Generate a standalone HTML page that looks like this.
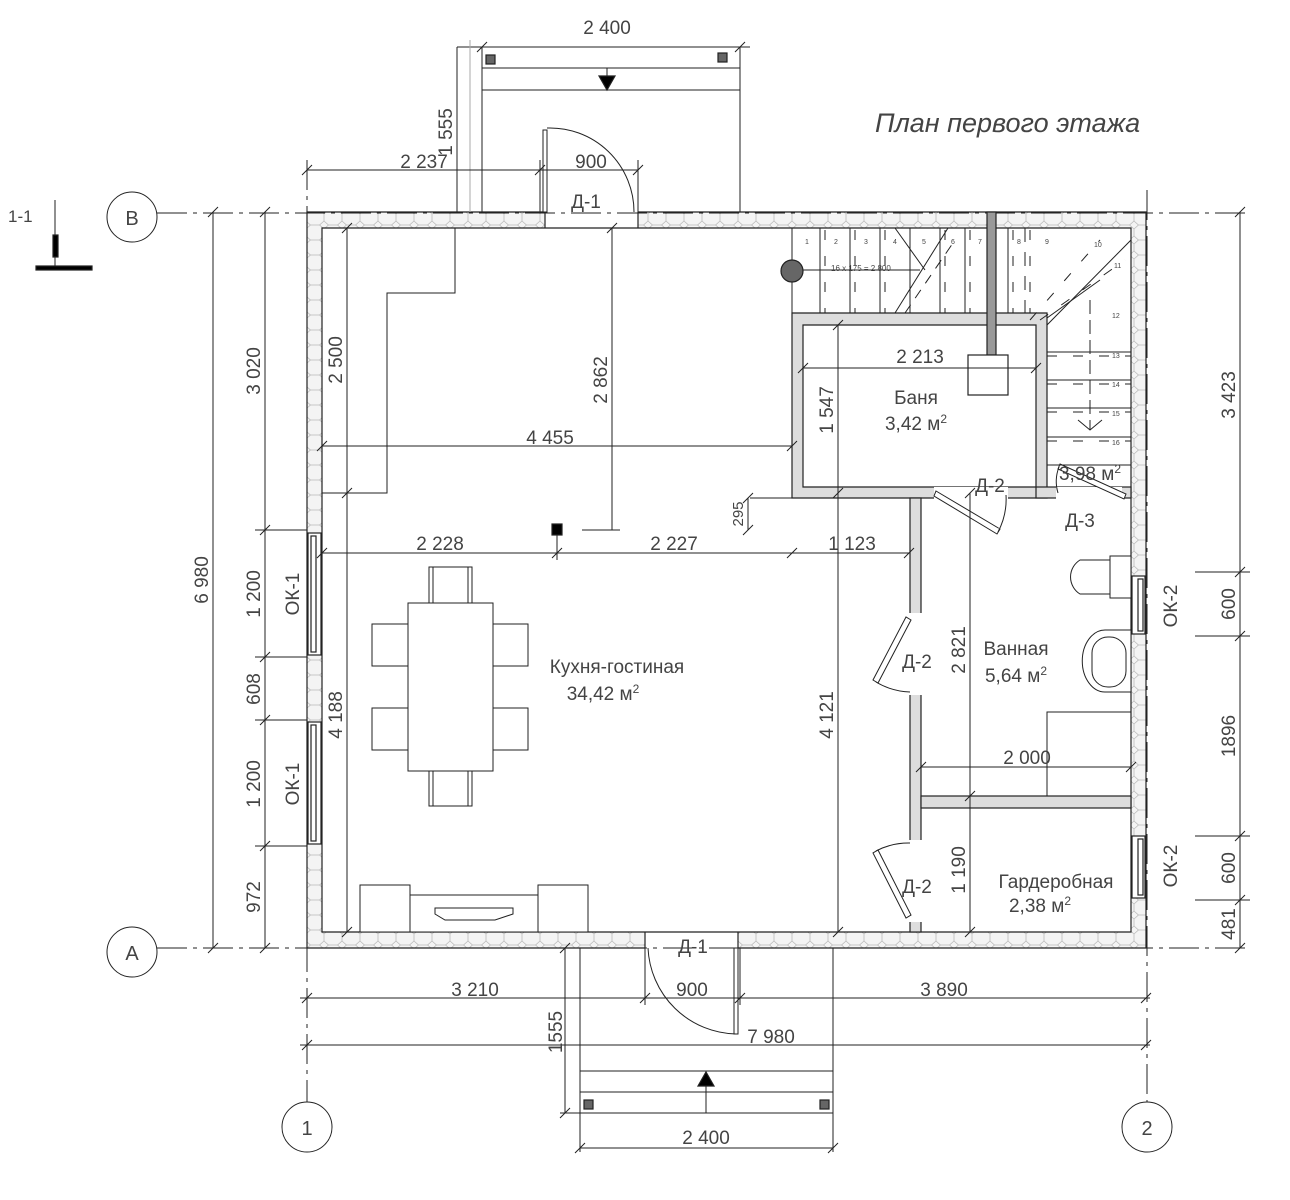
<!DOCTYPE html>
<html><head><meta charset="utf-8"><style>
html,body{margin:0;padding:0;background:#fff}
svg{display:block}
text{font-family:"Liberation Sans",sans-serif;fill:#444}
</style></head><body>
<svg width="1290" height="1200" viewBox="0 0 1290 1200" xmlns="http://www.w3.org/2000/svg">
<defs>
<pattern id="hex" width="18" height="15" patternUnits="userSpaceOnUse">
<rect width="18" height="15" fill="#f4f4f4"/>
<path d="M0 4 L4.5 0 L13.5 0 L18 4 M4.5 0 L4.5 -1 M0 4 L0 11 L4.5 15 M18 4 L18 11 L13.5 15 M4.5 15 L13.5 15" stroke="#bbb" stroke-width="0.8" fill="none"/>
</pattern>
</defs>
<g stroke="#222" stroke-width="1.2" fill="none">
<path d="M307 212 H1146 V948 H307 Z M322 228 V932 H1131 V228 Z" fill="url(#hex)" fill-rule="evenodd"/>
<rect x="545" y="211" width="93" height="18" fill="#fff" stroke="none"/>
<rect x="645" y="931" width="93" height="18" fill="#fff" stroke="none"/>
<line x1="545" y1="212" x2="545" y2="228"/><line x1="638" y1="212" x2="638" y2="228"/>
<line x1="645" y1="932" x2="645" y2="948"/><line x1="738" y1="932" x2="738" y2="948"/>
<line x1="545" y1="228" x2="638" y2="228"/><line x1="645" y1="932" x2="738" y2="932"/>
<rect x="308" y="533" width="13" height="122" fill="#fff"/><rect x="311" y="536" width="5" height="116"/>
<rect x="308" y="722" width="13" height="122" fill="#fff"/><rect x="311" y="725" width="5" height="116"/>
<rect x="1132" y="576" width="13" height="58" fill="#fff"/><rect x="1138" y="579" width="5" height="52"/>
<rect x="1132" y="836" width="13" height="62" fill="#fff"/><rect x="1138" y="839" width="5" height="56"/>
<g stroke-dasharray="30 6 4 6" stroke-width="1">
<line x1="157" y1="213" x2="1250" y2="213"/><line x1="157" y1="948" x2="1250" y2="948"/>
<line x1="307" y1="160" x2="307" y2="1102"/><line x1="1147" y1="190" x2="1147" y2="1102"/>
</g>
<circle cx="132" cy="217" r="25" stroke-width="1"/><circle cx="132" cy="952" r="25" stroke-width="1"/>
<circle cx="307" cy="1127" r="25" stroke-width="1"/><circle cx="1147" cy="1127" r="25" stroke-width="1"/>
<path d="M792 313 H1047 V498 H792 Z M803 325 V487 H1036 V325 Z" fill="#ddd" fill-rule="evenodd"/>
<rect x="910" y="498" width="11" height="434" fill="#ddd"/>
<rect x="921" y="796" width="210" height="12" fill="#ddd"/>
<rect x="1036" y="487" width="95" height="11" fill="#ddd"/>
<rect x="934" y="487" width="74" height="12" fill="#fff" stroke="none"/>
<rect x="1056" y="487" width="66" height="12" fill="#fff" stroke="none"/>
<rect x="908" y="613" width="15" height="82" fill="#fff" stroke="none"/>
<rect x="908" y="840" width="15" height="82" fill="#fff" stroke="none"/>
<!-- doors -->
<rect x="543" y="130" width="4" height="82" fill="#fff" stroke-width="1"/><path d="M547 128 A84 84 0 0 1 634 212" stroke-width="1"/>
<rect x="734" y="948" width="4" height="86" fill="#fff" stroke-width="1"/><path d="M736 1034 A90 90 0 0 1 648 948" stroke-width="1"/>
<g stroke-width="1" fill="#fff">
<path d="M936 491 L1000 529 L997 534 L934 496 Z"/><path d="M998 532 A70 70 0 0 0 1006 495"/>
<path d="M906 617 L873 680 L878 683 L911 620 Z"/><path d="M876 682 A70 70 0 0 0 910 692" fill="none"/>
<path d="M906 918 L873 853 L878 850 L911 915 Z"/><path d="M876 851 A70 70 0 0 1 910 843" fill="none"/>
<path d="M1060 464 L1126 494 L1124 499 L1058 469 Z"/><path d="M1059 467 A40 40 0 0 0 1058 493" fill="none"/>
</g>
<rect x="987" y="212" width="9" height="143" fill="#999"/>
<rect x="968" y="355" width="40" height="40" fill="#fff"/>
<!-- stairs -->
<g stroke-width="1">
<line x1="792" y1="228" x2="792" y2="313"/>
<line x1="820" y1="228" x2="820" y2="313"/><line x1="850" y1="228" x2="850" y2="313"/>
<line x1="880" y1="228" x2="880" y2="313"/><line x1="910" y1="228" x2="910" y2="313"/>
<line x1="940" y1="228" x2="940" y2="313"/><line x1="965" y1="228" x2="965" y2="313"/>
<line x1="1008" y1="228" x2="1008" y2="313"/><line x1="1025" y1="228" x2="1025" y2="313" stroke-dasharray="14 10"/>
<g stroke-dasharray="10 16">
<line x1="825" y1="230" x2="825" y2="313"/><line x1="855" y1="230" x2="855" y2="313"/>
<line x1="885" y1="230" x2="885" y2="313"/><line x1="945" y1="230" x2="945" y2="313"/>
<line x1="970" y1="230" x2="970" y2="313"/><line x1="1013" y1="230" x2="1013" y2="313"/>
<line x1="1030" y1="230" x2="1030" y2="313"/>
<line x1="1047" y1="356" x2="1131" y2="356"/><line x1="1047" y1="384" x2="1131" y2="384"/>
<line x1="1047" y1="412" x2="1131" y2="412"/><line x1="1047" y1="441" x2="1131" y2="441"/>
<line x1="1030" y1="320" x2="1100" y2="240"/><line x1="1040" y1="320" x2="1125" y2="260"/>
</g>
<line x1="895" y1="228" x2="925" y2="270"/><line x1="895" y1="313" x2="948" y2="228"/>
<line x1="905" y1="313" x2="955" y2="240" stroke-dasharray="10 8"/>
<line x1="795" y1="270" x2="920" y2="270"/>
<line x1="1047" y1="325" x2="1131" y2="240"/><line x1="1047" y1="318" x2="1100" y2="280"/>
<line x1="1047" y1="352" x2="1131" y2="352"/><line x1="1047" y1="380" x2="1131" y2="380"/>
<line x1="1047" y1="408" x2="1131" y2="408"/><line x1="1047" y1="437" x2="1131" y2="437"/>
<line x1="1047" y1="465" x2="1131" y2="465"/>
<line x1="1090" y1="300" x2="1090" y2="430" stroke-dasharray="14 6"/>
<path d="M1078 420 L1090 430 L1102 420"/>
</g>
<circle cx="792" cy="271" r="11" fill="#666"/>
<g stroke-width="1">
<polyline points="455,228 455,293 387,293 387,493 322,493"/>
<line x1="347" y1="228" x2="347" y2="932"/>
<line x1="322" y1="446" x2="792" y2="446"/>
<line x1="612" y1="228" x2="612" y2="530"/><line x1="582" y1="530" x2="620" y2="530"/>
<line x1="748" y1="498" x2="748" y2="530"/><line x1="750" y1="498" x2="792" y2="498"/>
<line x1="322" y1="553" x2="909" y2="553"/>
<line x1="557" y1="530" x2="557" y2="560"/>
<line x1="838" y1="325" x2="838" y2="932"/>
<line x1="803" y1="368" x2="1036" y2="368"/>
<line x1="970" y1="493" x2="970" y2="932"/>
<line x1="921" y1="767" x2="1131" y2="767"/>
<path d="M1047 796 V712 H1131"/>
<path d="M342 233 l10 -10 M342 498 l10 -10 M607 233 l10 -10 M317 451 l10 -10 M787 451 l10 -10 M317 558 l10 -10 M552 558 l10 -10 M787 558 l10 -10 M904 558 l10 -10 M833 330 l10 -10 M833 498 l10 -10 M798 373 l10 -10 M1031 373 l10 -10 M916 772 l10 -10 M1126 772 l10 -10 M965 498 l10 -10 M965 801 l10 -10 M965 937 l10 -10 M342 937 l10 -10 M833 937 l10 -10 M743 503 l10 -10 M743 535 l10 -10"/>
</g>
<g stroke-width="1" fill="#fff">
<rect x="429" y="567" width="43" height="36"/><rect x="429" y="770" width="43" height="36"/>
<rect x="372" y="624" width="36" height="42"/><rect x="372" y="708" width="36" height="42"/>
<rect x="492" y="624" width="36" height="42"/><rect x="492" y="708" width="36" height="42"/>
<path d="M433 567 V603 M468 567 V603 M433 770 V806 M468 770 V806 M376 624 H408 M376 666 H408 M376 708 H408 M376 750 H408 M492 624 H524 M492 666 H524 M492 708 H524 M492 750 H524"/>
<rect x="408" y="603" width="85" height="168"/>
<rect x="360" y="885" width="50" height="47"/><rect x="410" y="895" width="128" height="37"/><rect x="538" y="885" width="50" height="47"/>
<path d="M435 908 H513 V914 L495 920 H445 L435 914 Z"/>
<path d="M1110 560 H1080 A20 20 0 0 0 1080 594 H1110 Z"/><rect x="1110" y="556" width="21" height="42"/>
<path d="M1131 630 H1105 A22 30 0 0 0 1105 692 H1131 Z"/><rect x="1092" y="637" width="34" height="50" rx="16"/>
</g>
<g stroke-width="1">
<line x1="482" y1="47" x2="482" y2="212"/><line x1="740" y1="47" x2="740" y2="212"/>
<line x1="482" y1="68" x2="740" y2="68"/><line x1="482" y1="90" x2="740" y2="90"/>
<line x1="457" y1="47" x2="750" y2="47"/>
<line x1="457" y1="47" x2="457" y2="212"/><line x1="470" y1="40" x2="470" y2="212" stroke="#aaa"/>
<line x1="607" y1="68" x2="607" y2="90"/>
<line x1="580" y1="948" x2="580" y2="1152"/><line x1="833" y1="948" x2="833" y2="1152"/>
<line x1="580" y1="1071" x2="833" y2="1071"/><line x1="580" y1="1092" x2="833" y2="1092"/><line x1="560" y1="1113" x2="833" y2="1113"/>
<line x1="706" y1="1080" x2="706" y2="1113"/>
<line x1="565" y1="948" x2="565" y2="1113"/>
<line x1="580" y1="1148" x2="833" y2="1148"/>
<line x1="307" y1="170" x2="638" y2="170"/><line x1="540" y1="160" x2="540" y2="212"/><line x1="638" y1="160" x2="638" y2="212"/>
<line x1="265" y1="212" x2="265" y2="948"/>
<line x1="213" y1="212" x2="213" y2="948"/>
<line x1="1240" y1="212" x2="1240" y2="948"/>
<line x1="1195" y1="572" x2="1250" y2="572"/><line x1="1195" y1="636" x2="1250" y2="636"/><line x1="1195" y1="836" x2="1250" y2="836"/><line x1="1195" y1="900" x2="1250" y2="900"/>
<line x1="255" y1="530" x2="307" y2="530"/><line x1="255" y1="657" x2="307" y2="657"/><line x1="255" y1="720" x2="307" y2="720"/><line x1="255" y1="846" x2="307" y2="846"/>
<line x1="300" y1="998" x2="1150" y2="998"/><line x1="300" y1="1045" x2="1150" y2="1045"/>
<line x1="645" y1="948" x2="645" y2="1005"/><line x1="740" y1="948" x2="740" y2="1005"/>
<path d="M477 52 l10 -10 M735 52 l10 -10 M302 175 l10 -10 M535 175 l10 -10 M633 175 l10 -10 M260 217 l10 -10 M260 535 l10 -10 M260 662 l10 -10 M260 725 l10 -10 M260 851 l10 -10 M260 953 l10 -10 M208 217 l10 -10 M208 953 l10 -10 M1235 217 l10 -10 M1235 577 l10 -10 M1235 641 l10 -10 M1235 841 l10 -10 M1235 905 l10 -10 M1235 953 l10 -10 M302 1003 l10 -10 M640 1003 l10 -10 M735 1003 l10 -10 M1141 1003 l10 -10 M302 1050 l10 -10 M1141 1050 l10 -10 M575 1153 l10 -10 M828 1153 l10 -10 M560 953 l10 -10 M560 1118 l10 -10"/>
<line x1="55" y1="200" x2="55" y2="268"/>
</g>
<rect x="36" y="266" width="56" height="4" fill="#000"/>
<rect x="53" y="235" width="5" height="22" fill="#000"/>
<rect x="486" y="55" width="9" height="9" fill="#666" stroke="#222"/><rect x="718" y="53" width="9" height="9" fill="#666" stroke="#222"/>
<rect x="584" y="1100" width="9" height="9" fill="#666" stroke="#222"/><rect x="820" y="1100" width="9" height="9" fill="#666" stroke="#222"/>
<path d="M599 76 H615 L607 90 Z" fill="#000"/>
<path d="M698 1086 H714 L706 1072 Z" fill="#000"/>
<rect x="552" y="524" width="10" height="11" fill="#000"/>
</g>
<g font-size="19">
<text x="607" y="34" text-anchor="middle">2 400</text>
<text x="424" y="168" text-anchor="middle">2 237</text>
<text x="591" y="168" text-anchor="middle">900</text>
<text x="586" y="208" text-anchor="middle">Д-1</text>
<text x="132" y="225" text-anchor="middle" font-size="20">В</text>
<text x="132" y="960" text-anchor="middle" font-size="20">А</text>
<text x="307" y="1135" text-anchor="middle" font-size="20">1</text>
<text x="1147" y="1135" text-anchor="middle" font-size="20">2</text>
<text x="8" y="222" font-size="17" fill="#000">1-1</text>
<text x="875" y="132" font-size="27" font-style="italic" fill="#555">План первого этажа</text>
<text x="550" y="444" text-anchor="middle">4 455</text>
<text x="440" y="550" text-anchor="middle">2 228</text>
<text x="674" y="550" text-anchor="middle">2 227</text>
<text x="852" y="550" text-anchor="middle">1 123</text>
<text x="920" y="363" text-anchor="middle">2 213</text>
<text x="916" y="404" text-anchor="middle">Баня</text>
<text x="916" y="430" text-anchor="middle">3,42 м<tspan font-size="12" dy="-7">2</tspan></text>
<text x="1090" y="480" text-anchor="middle">3,98 м<tspan font-size="12" dy="-7">2</tspan></text>
<text x="990" y="492" text-anchor="middle">Д-2</text>
<text x="1080" y="527" text-anchor="middle">Д-3</text>
<text x="1016" y="655" text-anchor="middle">Ванная</text>
<text x="1016" y="682" text-anchor="middle">5,64 м<tspan font-size="12" dy="-7">2</tspan></text>
<text x="1027" y="764" text-anchor="middle">2 000</text>
<text x="1056" y="888" text-anchor="middle">Гардеробная</text>
<text x="1040" y="912" text-anchor="middle">2,38 м<tspan font-size="12" dy="-7">2</tspan></text>
<text x="617" y="673" text-anchor="middle">Кухня-гостиная</text>
<text x="603" y="700" text-anchor="middle">34,42 м<tspan font-size="12" dy="-7">2</tspan></text>
<text x="917" y="668" text-anchor="middle">Д-2</text>
<text x="917" y="893" text-anchor="middle">Д-2</text>
<text x="693" y="953" text-anchor="middle">Д-1</text>
<text x="475" y="996" text-anchor="middle">3 210</text>
<text x="692" y="996" text-anchor="middle">900</text>
<text x="944" y="996" text-anchor="middle">3 890</text>
<text x="771" y="1043" text-anchor="middle">7 980</text>
<text x="706" y="1144" text-anchor="middle">2 400</text>
<text x="831" y="271" font-size="8">16 x 175 = 2 800</text>
<g font-size="7">
<text x="805" y="244">1</text><text x="834" y="244">2</text><text x="864" y="244">3</text><text x="893" y="244">4</text><text x="922" y="244">5</text><text x="951" y="244">6</text><text x="978" y="244">7</text><text x="1017" y="244">8</text><text x="1045" y="244">9</text>
<text x="1114" y="268">11</text><text x="1112" y="318">12</text><text x="1112" y="358">13</text><text x="1112" y="387">14</text><text x="1112" y="416">15</text><text x="1112" y="445">16</text><text x="1094" y="247">10</text></g>
<g>
<text transform="translate(260,371) rotate(-90)" text-anchor="middle">3 020</text>
<text transform="translate(260,594) rotate(-90)" text-anchor="middle">1 200</text>
<text transform="translate(260,689) rotate(-90)" text-anchor="middle">608</text>
<text transform="translate(260,784) rotate(-90)" text-anchor="middle">1 200</text>
<text transform="translate(260,897) rotate(-90)" text-anchor="middle">972</text>
<text transform="translate(208,580) rotate(-90)" text-anchor="middle">6 980</text>
<text transform="translate(299,594) rotate(-90)" text-anchor="middle">ОК-1</text>
<text transform="translate(299,784) rotate(-90)" text-anchor="middle">ОК-1</text>
<text transform="translate(342,360) rotate(-90)" text-anchor="middle">2 500</text>
<text transform="translate(342,715) rotate(-90)" text-anchor="middle">4 188</text>
<text transform="translate(607,380) rotate(-90)" text-anchor="middle">2 862</text>
<text transform="translate(743,514) rotate(-90)" text-anchor="middle" font-size="15">295</text>
<text transform="translate(833,410) rotate(-90)" text-anchor="middle">1 547</text>
<text transform="translate(833,715) rotate(-90)" text-anchor="middle">4 121</text>
<text transform="translate(965,650) rotate(-90)" text-anchor="middle">2 821</text>
<text transform="translate(965,870) rotate(-90)" text-anchor="middle">1 190</text>
<text transform="translate(1235,395) rotate(-90)" text-anchor="middle">3 423</text>
<text transform="translate(1235,604) rotate(-90)" text-anchor="middle">600</text>
<text transform="translate(1235,736) rotate(-90)" text-anchor="middle">1896</text>
<text transform="translate(1235,868) rotate(-90)" text-anchor="middle">600</text>
<text transform="translate(1235,924) rotate(-90)" text-anchor="middle">481</text>
<text transform="translate(1177,606) rotate(-90)" text-anchor="middle">ОК-2</text>
<text transform="translate(1177,866) rotate(-90)" text-anchor="middle">ОК-2</text>
<text transform="translate(452,132) rotate(-90)" text-anchor="middle">1 555</text>
<text transform="translate(562,1032) rotate(-90)" text-anchor="middle">1555</text>
</g>
</g>
</svg>
</body></html>
